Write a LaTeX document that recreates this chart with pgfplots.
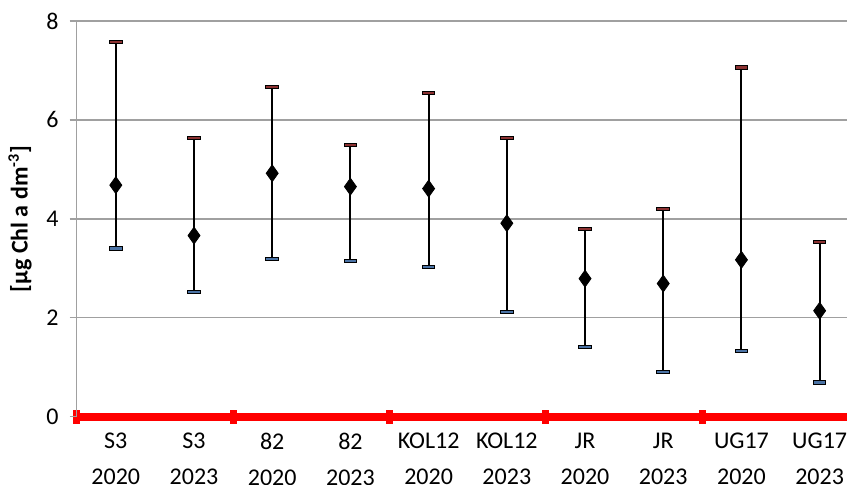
\documentclass[border=0pt]{standalone}
\usepackage{fontspec}
\setmainfont{Carlito}
\usepackage{pgfplots}
\pgfplotsset{compat=1.18}
\usepackage{pgfplotstable}

\definecolor{gridgray}{RGB}{160,160,160}
\definecolor{capred}{RGB}{140,50,50}
\definecolor{capblue}{RGB}{75,115,165}

% mean, upper and lower value of chlorophyll a per station and year
\pgfplotstableread{
x mean hi   lo
0 4.68 7.58 3.40
1 3.66 5.63 2.52
2 4.92 6.67 3.19
3 4.65 5.49 3.15
4 4.61 6.54 3.02
5 3.91 5.63 2.11
6 2.79 3.80 1.40
7 2.69 4.19 0.90
8 3.17 7.06 1.33
9 2.14 3.53 0.69
}\chldata

\begin{document}
\begin{tikzpicture}
\begin{axis}[
  scale only axis,
  width=385.15pt, height=197.8pt,
  xmin=-0.5, xmax=9.35,
  ymin=0, ymax=8,
  axis x line*=bottom,
  axis y line*=left,
  x axis line style={red, line width=4pt},
  y axis line style={gridgray, line width=0.6pt},
  ytick={0,2,4,6,8},
  ymajorgrids,
  major grid style={gridgray, line width=0.75pt},
  tick align=center,
  major tick length=7pt,
  ytick style={gridgray, line width=0.75pt},
  % group separators on the category axis
  xtick={-0.5,1.5,3.5,5.5,7.5},
  xticklabels={},
  xtick style={red, line width=3.5pt},
  % category names
  extra x ticks={0,...,9},
  extra x tick labels={{S3\\[2.5pt]2020},{S3\\[2.5pt]2023},{82\\[2.5pt]2020},{82\\[2.5pt]2023},{KOL12\\[2.5pt]2020},{KOL12\\[2.5pt]2023},{JR\\[2.5pt]2020},{JR\\[2.5pt]2023},{UG17\\[2.5pt]2020},{UG17\\[2.5pt]2023}},
  extra x tick style={grid=none, major tick length=0pt, tick style={draw=none},
    xticklabel style={align=center, font=\fontsize{12}{15.5}\selectfont, yshift=-4.5pt}},
  yticklabel style={font=\fontsize{12}{14}\selectfont, xshift=-2pt},
  /pgf/number format/assume math mode=true,
  ylabel={[µg Chl a dm\textsuperscript{-3}]},
  ylabel style={at={(rel axis cs:-0.0735,0.5)}, anchor=center, font=\bfseries\fontsize{12}{14}\selectfont},
]
% whiskers
\addplot[black, line width=1pt, mark=none, draw=none,
  error bars/.cd, y dir=both, y explicit, error mark=none,
  error bar style={black, line width=1pt}]
  table[x=x, y=mean,
        y error plus expr=\thisrow{hi}-\thisrow{mean},
        y error minus expr=\thisrow{mean}-\thisrow{lo}] {\chldata};
% upper caps
\addplot[only marks, mark=square*, mark size=0.8pt,
  mark options={xscale=3.9, fill=capred, draw=black, line width=0.5pt}]
  table[x=x, y=hi] {\chldata};
% lower caps
\addplot[only marks, mark=square*, mark size=0.8pt,
  mark options={xscale=3.9, fill=capblue, draw=black, line width=0.5pt}]
  table[x=x, y=lo] {\chldata};
% means
\addplot[only marks, mark=diamond*, mark size=4pt,
  mark options={fill=black, draw=black, yscale=1.05}]
  table[x=x, y=mean] {\chldata};
\coordinate (sw) at (rel axis cs:0,0);
\coordinate (ne) at (rel axis cs:1,1);
\end{axis}
\pgfresetboundingbox
\path[use as bounding box] ([shift={(-38.35pt,-34.15pt)}]sw) rectangle ([shift={(0pt,10.5pt)}]ne);
\end{tikzpicture}
\end{document}
